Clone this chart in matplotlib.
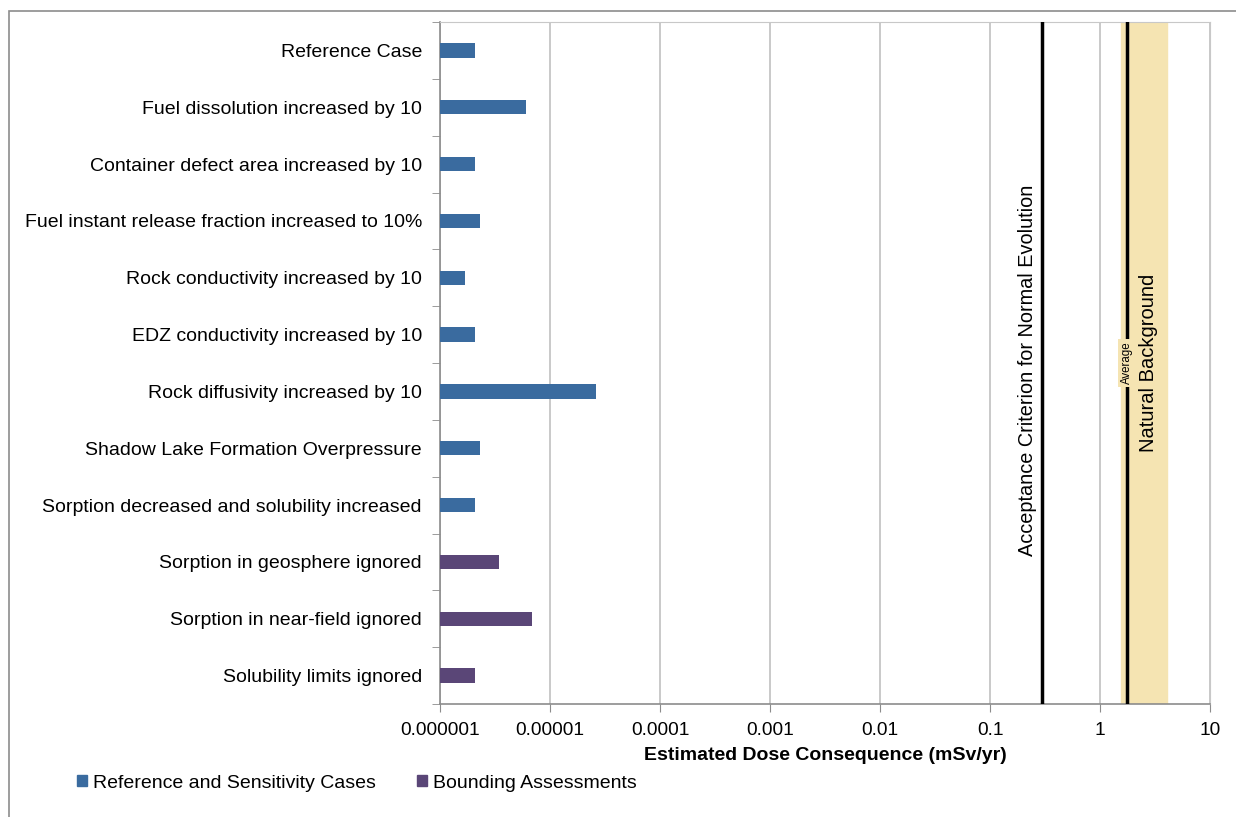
import numpy as np
import matplotlib.pyplot as plt
from matplotlib.patches import Rectangle, Patch

plt.rcParams['font.family'] = ['Liberation Sans', 'DejaVu Sans']

# cases, top to bottom
cases = ['Reference Case',
         'Fuel dissolution increased by 10',
         'Container defect area increased by 10',
         'Fuel instant release fraction increased to 10%',
         'Rock conductivity increased by 10',
         'EDZ conductivity increased by 10',
         'Rock diffusivity increased by 10',
         'Shadow Lake Formation Overpressure',
         'Sorption decreased and solubility increased',
         'Sorption in geosphere ignored',
         'Sorption in near-field ignored',
         'Solubility limits ignored']
dose = [2.0e-6, 6.0e-6, 2.0e-6, 2.2e-6, 1.6e-6, 2.0e-6, 2.6e-5,
        2.2e-6, 2.0e-6, 3.35e-6, 6.8e-6, 1.98e-6]
group = ['ref'] * 9 + ['bound'] * 3

criterion = 0.3
background_avg = 1.75
background_range = [1.55, 4.1]

xticks = [1e-6, 1e-5, 1e-4, 1e-3, 1e-2, 1e-1, 1, 10]
xticklabels = ['0.000001', '0.00001', '0.0001', '0.001', '0.01', '0.1', '1', '10']

blue = '#3A6B9F'
purple = '#5A4677'
colors = [blue if g == 'ref' else purple for g in group]

fs = 14

fig = plt.figure(figsize=(12.36, 8.17), dpi=100)
ax = fig.add_axes([440 / 1236, 1 - 704 / 817, 770 / 1236, 682 / 817])

# outer chart border
fig.patches.append(Rectangle((9 / 1236, -0.1), 1.2, 1 - 11 / 817 + 0.1,
                             transform=fig.transFigure, fill=False,
                             edgecolor='#8c8c8c', linewidth=1.2))

y = np.arange(len(cases))
ax.axvspan(background_range[0], background_range[1], color='#F5E4B2', zorder=1)
ax.barh(y, dose, height=0.25, color=colors, left=1e-7, zorder=3)
ax.axvline(criterion, color='black', linewidth=2.5, zorder=4)
ax.axvline(background_avg, color='black', linewidth=2.5, zorder=4)

ax.set_xscale('log')
ax.set_xlim(1e-6, 10)
ax.set_ylim(len(cases) - 0.5, -0.5)
ax.set_xticks(xticks)
ax.set_xticklabels(xticklabels, fontsize=13.7)
ax.minorticks_off()
ax.grid(axis='x', color='#c0c0c0', linewidth=1.2, zorder=0)
ax.set_axisbelow(True)

ax.set_yticks(y)
ax.set_yticklabels(cases, fontsize=fs)
ax.tick_params(axis='y', length=0, pad=13)
ax.set_yticks(np.arange(len(cases) + 1) - 0.5, minor=True)
ax.tick_params(axis='y', which='minor', length=6, color='#8c8c8c')
ax.tick_params(axis='x', length=6, color='#8c8c8c', pad=7)

for s in ['top', 'right']:
    ax.spines[s].set_color('#c8c8c8')
for s in ['left', 'bottom']:
    ax.spines[s].set_color('#8c8c8c')
    ax.spines[s].set_linewidth(1.2)

ax.set_xlabel('Estimated Dose Consequence (mSv/yr)', fontsize=fs,
              fontweight='bold', labelpad=6)

ax.text(0.22, 5.63, 'Acceptance Criterion for Normal Evolution', rotation=90,
        ha='center', va='center', fontsize=14.3, zorder=5)
ax.text(2.77, 5.5, 'Natural Background', rotation=90,
        ha='center', va='center', fontsize=14.5, zorder=5)
ax.text(background_avg, 5.5, 'Average', rotation=90, ha='center', va='center',
        fontsize=8.3, zorder=6,
        bbox=dict(boxstyle='square,pad=0.25', fc='#F5E4B2', ec='none'))

handles = [Patch(color=blue, label='Reference and Sensitivity Cases'),
           Patch(color=purple, label='Bounding Assessments')]
fig.legend(handles=handles, loc='center left', bbox_to_anchor=(59 / 1236, 1 - 783 / 817),
           ncol=2, frameon=False, fontsize=fs, handlelength=0.55, handleheight=0.55,
           handletextpad=0.3, columnspacing=2.1)

fig.savefig('out.png', dpi=100)
